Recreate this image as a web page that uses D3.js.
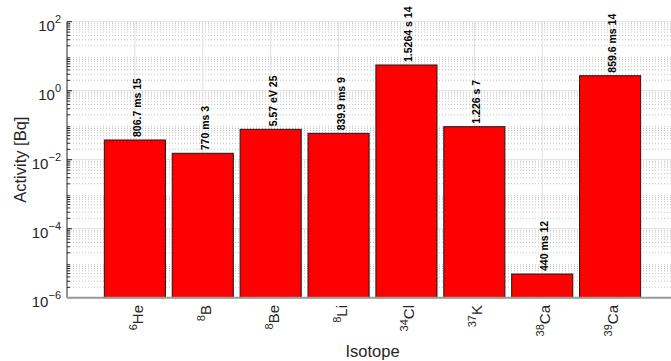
<!DOCTYPE html>
<html>
<head>
<meta charset="utf-8">
<script src="https://cdn.jsdelivr.net/npm/d3@7"></script>
<style>
  html, body { margin: 0; padding: 0; background: #fff; }
  svg { display: block; font-family: "Liberation Sans", Arial, sans-serif; }
</style>
</head>
<body>
<svg id="chart" width="671" height="361"></svg>
<script>
// Isotopes (mass number + element symbol)
const massNumbers = ["6", "8", "8", "8", "34", "37", "38", "39"];
const elements = ["He", "B", "Be", "Li", "Cl", "K", "Ca", "Ca"];
// Activity in Bq
const activity = [0.0372, 0.01534, 0.076, 0.0582, 5.56, 0.0905, 4.86e-6, 2.72];
// Half-life annotations above each bar
const halfLives = ["806.7 ms 15", "770 ms 3", "5.57 eV 25", "839.9 ms 9",
                   "1.5264 s 14", "1.226 s 7", "440 ms 12", "859.6 ms 14"];
// Decade exponents for the y tick labels
const yTickExponents = ["-6", "-4", "-2", "0", "2"];

const svg = d3.select("#chart");
const plotLeft = 67, plotTop = 21.7, plotBottom = 297.7, plotRight = 678;

const x = d3.scaleLinear().domain([0, activity.length + 1]).range([plotLeft, plotRight]);
const y = d3.scaleLog().domain([1e-6, 1e2]).range([plotBottom, plotTop]);

const barWidth = 0.9 * (x(1) - x(0));
const textColor = "#262626";

// Grid: minor dotted lines for every 2..9 within each decade
const minorVals = [];
for (let e = -6; e < 2; e++) {
  for (let m = 2; m <= 9; m++) minorVals.push(m * Math.pow(10, e));
}
const grid = svg.append("g");
grid.selectAll("line.minor").data(minorVals).join("line")
  .attr("x1", plotLeft).attr("x2", plotRight)
  .attr("y1", d => y(d)).attr("y2", d => y(d))
  .attr("stroke", "#c4c4c4").attr("stroke-width", 1)
  .attr("stroke-dasharray", "1,2");

const majorVals = yTickExponents.map(e => Math.pow(10, +e));
grid.selectAll("line.major").data(majorVals.filter(v => v > 1e-6)).join("line")
  .attr("x1", plotLeft).attr("x2", plotRight)
  .attr("y1", d => y(d)).attr("y2", d => y(d))
  .attr("stroke", "#e0e0e0").attr("stroke-width", 1);

// Vertical grid lines at each category
grid.selectAll("line.vert").data(d3.range(1, activity.length + 1)).join("line")
  .attr("x1", d => x(d)).attr("x2", d => x(d))
  .attr("y1", plotTop).attr("y2", plotBottom)
  .attr("stroke", "#e0e0e0").attr("stroke-width", 1);

// Bars
svg.append("g").selectAll("rect").data(activity).join("rect")
  .attr("x", (d, i) => x(i + 1) - barWidth / 2)
  .attr("y", d => y(d))
  .attr("width", barWidth)
  .attr("height", d => plotBottom - y(d))
  .attr("fill", "#ff0000")
  .attr("stroke", "#1a1a1a").attr("stroke-width", 1);

// Half-life labels, rotated, above each bar
svg.append("g").selectAll("text").data(activity).join("text")
  .attr("transform", (d, i) => `translate(${x(i + 1) + 6},${y(d) - 3}) rotate(-90)`)
  .attr("font-size", 10.5).attr("font-weight", "bold").attr("fill", "#000")
  .text((d, i) => halfLives[i]);

// Y axis (left), ticks pointing inward
const axisG = svg.append("g");
axisG.append("line")
  .attr("x1", plotLeft).attr("x2", plotLeft).attr("y1", plotTop).attr("y2", plotBottom)
  .attr("stroke", textColor).attr("stroke-width", 1);
axisG.selectAll("line.mt").data(minorVals).join("line")
  .attr("x1", plotLeft).attr("x2", plotLeft + 3)
  .attr("y1", d => y(d)).attr("y2", d => y(d))
  .attr("stroke", textColor);
axisG.selectAll("line.Mt").data(majorVals).join("line")
  .attr("x1", plotLeft).attr("x2", plotLeft + 5)
  .attr("y1", d => y(d)).attr("y2", d => y(d))
  .attr("stroke", textColor);

const yLabels = axisG.selectAll("text.yt").data(yTickExponents).join("text")
  .attr("x", 61).attr("y", d => y(Math.pow(10, +d)) + 9)
  .attr("text-anchor", "end").attr("fill", textColor);
yLabels.append("tspan").attr("font-size", 15).text("10");
yLabels.append("tspan").attr("font-size", 11).attr("dy", -8).text(d => d.replace("-", "\u2212"));

// X axis (bottom)
svg.append("line")
  .attr("x1", plotLeft).attr("x2", plotRight).attr("y1", plotBottom).attr("y2", plotBottom)
  .attr("stroke", "#9a9a9a").attr("stroke-width", 2);

const xLabels = svg.append("g").selectAll("text").data(elements).join("text")
  .attr("transform", (d, i) => `translate(${x(i + 1) + 8},305) rotate(-90)`)
  .attr("text-anchor", "end").attr("fill", textColor);
xLabels.append("tspan").attr("font-size", 11).attr("dy", -6).text((d, i) => massNumbers[i]);
xLabels.append("tspan").attr("font-size", 15).attr("dy", 6).text(d => d);

// Axis titles
svg.append("text")
  .attr("transform", `translate(26,${(plotTop + plotBottom) / 2}) rotate(-90)`)
  .attr("text-anchor", "middle").attr("font-size", 16.5).attr("fill", textColor)
  .text("Activity [Bq]");
svg.append("text")
  .attr("x", (plotLeft + plotRight) / 2).attr("y", 357)
  .attr("text-anchor", "middle").attr("font-size", 16.5).attr("fill", textColor)
  .text("Isotope");
</script>
</body>
</html>
